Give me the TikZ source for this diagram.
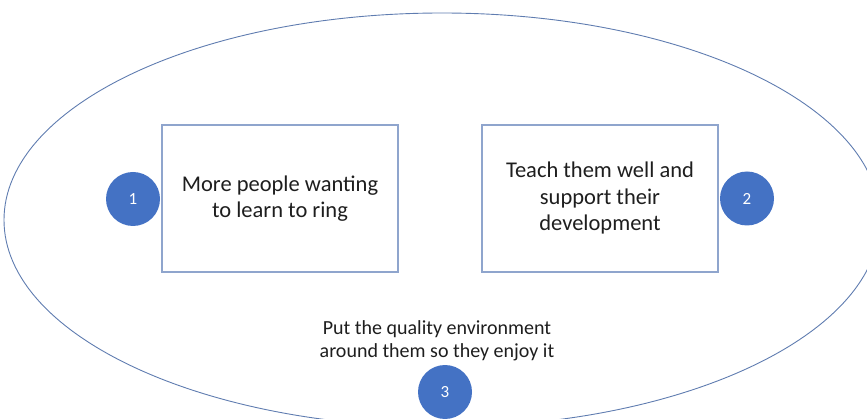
\documentclass[tikz,border=0pt]{standalone}
\usepackage{fontspec}
\setmainfont{Carlito}
\definecolor{ringblue}{RGB}{68,114,196}
\definecolor{boxline}{RGB}{143,165,205}
\definecolor{txt}{RGB}{30,30,30}
\begin{document}
\begin{tikzpicture}[x=1pt,y=-1pt,
  stepbox/.style={draw=boxline,line width=1.1pt,minimum width=236pt,minimum height=147pt,align=center,font=\fontsize{22.5}{26.5}\selectfont,text=txt,inner sep=0pt},
  badge/.style={circle,fill=ringblue,minimum size=54pt,inner sep=0pt,text=white,font=\fontsize{17}{20}\selectfont}]
\useasboundingbox (0,0) rectangle (867,419);
\draw[ringblue!80!black!80!white,line width=0.9pt] (442,220) ellipse [x radius=438pt,y radius=207pt];
\node[stepbox] (b1) at (280,198.5) {More people wanting\\to learn to ring};
\node[stepbox] (b2) at (600,198.5) {Teach them well and\\support their\\development};
\node[badge] (c1) at (133,199) {1};
\node[badge] (c2) at (747,198.5) {2};
\node[badge] (c3) at (445,392) {3};
\node[align=center,font=\fontsize{20}{23}\selectfont,text=txt,inner sep=0pt] (t3) at (437,341) {Put the quality environment\\around them so they enjoy it};
\end{tikzpicture}
\end{document}
